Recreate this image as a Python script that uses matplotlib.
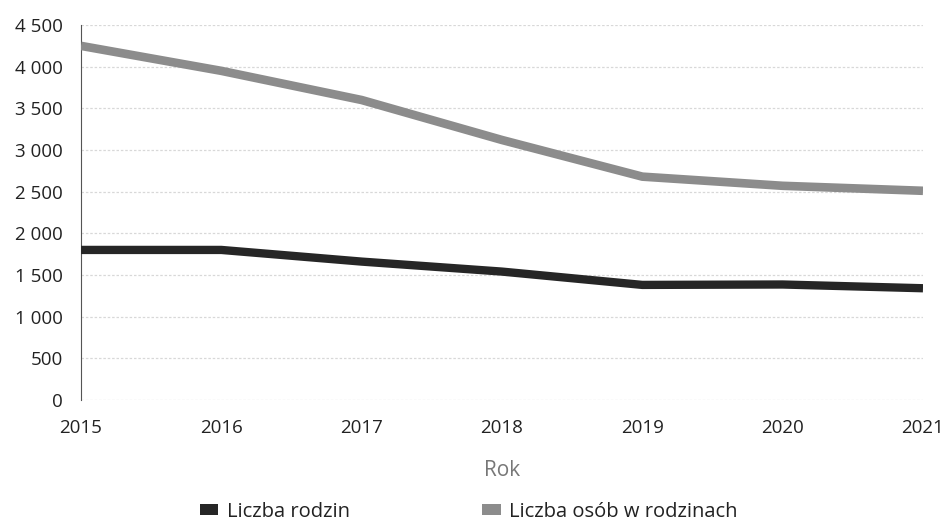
import matplotlib
matplotlib.use("Agg")
import matplotlib.pyplot as plt
from matplotlib.patches import Patch
from matplotlib.ticker import FuncFormatter

years = [2015, 2016, 2017, 2018, 2019, 2020, 2021]
liczba_rodzin = [1800, 1800, 1660, 1540, 1380, 1385, 1340]
liczba_osob = [4250, 3950, 3600, 3120, 2680, 2570, 2510]
yticks = [0, 500, 1000, 1500, 2000, 2500, 3000, 3500, 4000, 4500]
series_names = ["Liczba rodzin", "Liczba osób w rodzinach"]

plt.rcParams['font.family'] = ['Open Sans', 'DejaVu Sans']

fig = plt.figure(figsize=(9.45, 5.22), dpi=100)
ax = fig.add_axes([0.0857, 0.234, 0.891, 0.718])

c_dark = '#262626'
c_grey = '#8c8c8c'

ax.plot(years, liczba_rodzin, color=c_dark, lw=6.0, solid_capstyle='butt', zorder=3)
ax.plot(years, liczba_osob, color=c_grey, lw=6.2, solid_capstyle='butt', zorder=3)

ax.set_xlim(years[0], years[-1])
ax.set_ylim(0, 4500)
ax.set_yticks(yticks)
ax.yaxis.set_major_formatter(FuncFormatter(lambda v, p: f"{int(v):,}".replace(",", " ")))
ax.set_xticks(years)
ax.tick_params(axis='both', length=0, labelsize=13.5, colors='#222222')
ax.tick_params(axis='y', pad=13)
ax.tick_params(axis='x', pad=14)

ax.grid(axis='y', color='#d8d8d8', lw=0.9, ls=(0, (2, 1.5)))
ax.set_axisbelow(True)
for s in ['top', 'right', 'bottom']:
    ax.spines[s].set_visible(False)
ax.spines['left'].set_color('#555555')
ax.spines['left'].set_linewidth(0.8)

ax.set_xlabel("Rok", fontsize=15, color='#777777', labelpad=16)

handles = [Patch(facecolor=c_dark, edgecolor='none'), Patch(facecolor=c_grey, edgecolor='none')]
fig.legend(handles, series_names, loc='center', bbox_to_anchor=(0.496, 0.02), ncol=2,
           frameon=False, fontsize=14.5, handlelength=0.9, handleheight=0.5,
           handletextpad=0.4, columnspacing=6.6, labelcolor='#222222')

fig.savefig("out.png", dpi=100)
